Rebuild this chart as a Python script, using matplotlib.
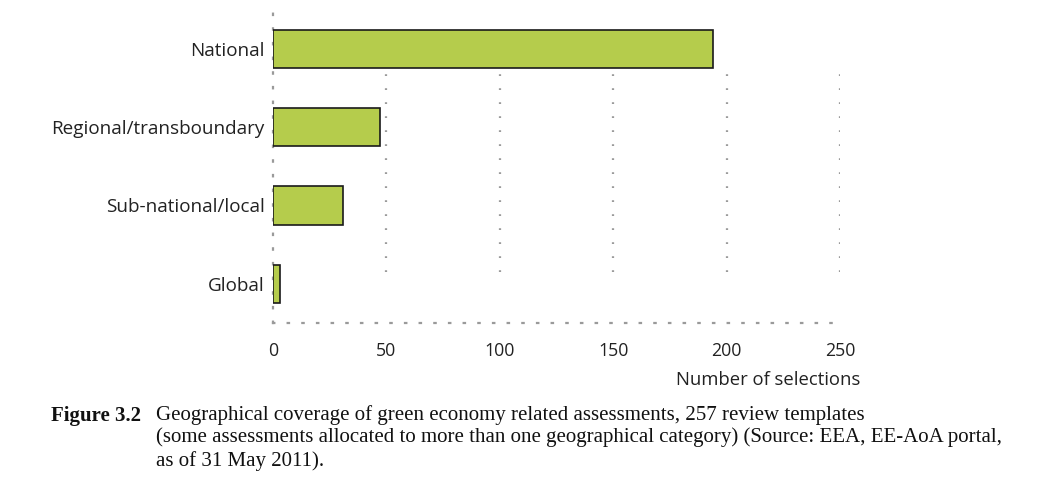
import matplotlib.pyplot as plt

categories = ["National", "Regional/transboundary", "Sub-national/local", "Global"]
selections = [194, 47, 31, 3]
xticks = [0, 50, 100, 150, 200, 250]

bar_color = "#b5cc4c"
dot_color = "#9a9a9a"
dots = (0, (0.8, 5.5))

fig = plt.figure(figsize=(10.58, 4.9), dpi=100)
ax = fig.add_axes([0.258, 0.341, 0.536, 0.639])

ypos = list(range(len(categories)))[::-1]
ax.barh(ypos, selections, height=0.49, color=bar_color, edgecolor="#1a1a1a",
        linewidth=1.2, zorder=3)

# grid lines only run between the top bar and the bottom bar
for x in xticks[1:]:
    ax.vlines(x, 0.15, 2.73 if x < 200 else 2.83, colors=dot_color,
              linestyles=dots, linewidth=1.6, zorder=1)

ax.set_xlim(0, 250)
ax.set_ylim(-0.5, 3.5)
ax.set_xticks(xticks)
ax.set_yticks(ypos)
ax.set_yticklabels(categories)
ax.tick_params(length=0, labelsize=12.8, colors="#222222")
ax.tick_params(axis="y", labelsize=13.6, pad=6)
ax.tick_params(axis="x", pad=14)
for lab in ax.get_xticklabels() + ax.get_yticklabels():
    lab.set_family("Open Sans")

for side in ["top", "right"]:
    ax.spines[side].set_visible(False)
for side in ["left", "bottom"]:
    ax.spines[side].set_linestyle((0, (0.6, 6)))
    ax.spines[side].set_color(dot_color)
    ax.spines[side].set_linewidth(1.6)

fig.text(0.813, 0.225, "Number of selections", ha="right", va="center",
         fontsize=13.3, family="Open Sans", color="#222222")

cap = dict(fontsize=15.0, family="Liberation Serif", va="center", color="#111111")
fig.text(0.048, 0.152, "Figure 3.2", fontweight="bold", **cap)
fig.text(0.147, 0.152, "Geographical coverage of green economy related assessments, 257 review templates", **cap)
fig.text(0.147, 0.107, "(some assessments allocated to more than one geographical category) (Source: EEA, EE-AoA portal,", **cap)
fig.text(0.147, 0.060, "as of 31 May 2011).", **cap)

fig.savefig("out.png", dpi=100)
